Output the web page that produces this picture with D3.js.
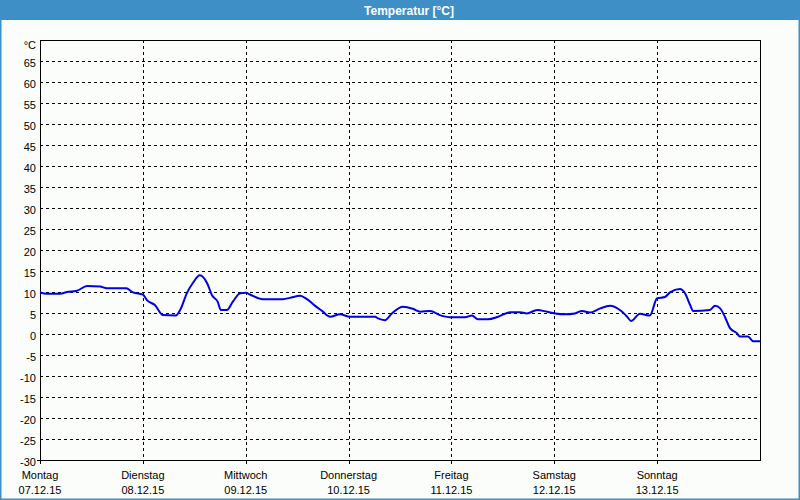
<!DOCTYPE html>
<html><head><meta charset="utf-8">
<script src="https://cdn.jsdelivr.net/npm/d3@7"></script>
<style>
html,body{margin:0;padding:0;background:#fbfdfb;}
svg{display:block;}
</style></head>
<body>
<svg id="c" width="800" height="500"></svg>
<script>
const title = "Temperatur [°C]";
const unitLabel = "°C";
const dayNames = ["Montag","Dienstag","Mittwoch","Donnerstag","Freitag","Samstag","Sonntag"];
const dayDates = ["07.12.15","08.12.15","09.12.15","10.12.15","11.12.15","12.12.15","13.12.15"];
const yTicks = [-30,-25,-20,-15,-10,-5,0,5,10,15,20,25,30,35,40,45,50,55,60,65];
// hours since Montag 07.12.15 00:00
const hours = [0,1.6,4.7,6.3,8.6,11.0,14.0,15.6,20.1,21.7,24.0,25.0,26.8,28.7,31.7,32.7,34.3,35.7,37.3,39.0,40.1,41.5,42.2,43.6,45.0,46.7,48.1,49.0,52.0,56.7,58.3,60.7,62.3,64.2,65.8,67.7,70.0,72.3,78.2,78.9,80.5,82.1,84.7,87.0,88.7,91.0,93.3,95.7,99.2,100.8,102.2,104.5,106.9,109.7,112.0,113.6,116.0,118.3,120.2,122.5,124.8,126.5,128.3,130.7,133.0,135.3,137.0,137.9,140.0,142.3,144.0,145.8,147.0,149.3,150.5,151.7,152.4,156.3,157.5,158.7,159.8,161.0,162.6,163.3,165.2,166.4,168.0];
const temps = [9.9,9.6,9.6,10.0,10.3,11.4,11.3,10.9,10.9,9.9,9.4,8.0,6.9,4.5,4.4,5.7,9.8,12.2,14.0,12.1,9.3,7.6,5.7,5.7,7.7,9.7,9.8,9.4,8.3,8.3,8.6,9.1,8.3,6.7,5.5,4.1,4.7,4.1,4.1,3.7,3.3,4.9,6.5,6.0,5.3,5.5,4.5,4.0,4.0,4.4,3.5,3.5,4.1,5.2,5.2,4.9,5.7,5.3,4.9,4.7,4.9,5.5,5.1,6.1,6.7,5.7,4.1,3.1,4.8,4.4,8.5,8.8,9.9,10.7,9.7,6.9,5.5,5.7,6.7,6.1,4.1,1.4,0.2,-0.6,-0.6,-1.7,-1.7];

const svg = d3.select("#c");
const W = 800, H = 500;
const L = 40, R = 760, T = 40, B = 460;
const font = "'Liberation Sans', Arial, sans-serif";

svg.append("rect").attr("x",0).attr("y",0).attr("width",W).attr("height",H).attr("fill","#fbfdfb");
// outer blue border
svg.append("rect").attr("x",0.75).attr("y",0).attr("width",W-1.5).attr("height",H-0.75)
  .attr("fill","none").attr("stroke","#3d8fc6").attr("stroke-width",1.5);
// title bar
svg.append("rect").attr("x",0).attr("y",0).attr("width",W).attr("height",20).attr("fill","#3d8fc6");
svg.append("text").attr("x",409).attr("y",15).attr("text-anchor","middle")
  .attr("fill","#ffffff").attr("font-family",font).attr("font-size",12).attr("font-weight","bold").text(title);

const x = d3.scaleLinear().domain([0,168]).range([L,R]);
const y = d3.scaleLinear().domain([-30,70]).range([B,T]);

// horizontal gridlines
svg.append("g").selectAll("line").data(yTicks.filter(v=>v>-30)).join("line")
  .attr("x1",L).attr("x2",R).attr("y1",d=>Math.round(y(d))+0.5).attr("y2",d=>Math.round(y(d))+0.5)
  .attr("stroke","#000").attr("stroke-width",1).attr("stroke-dasharray","3,3");
// vertical gridlines (day boundaries)
const dayIdx = d3.range(1,7);
svg.append("g").selectAll("line").data(dayIdx).join("line")
  .attr("x1",d=>Math.round(x(d*24))+0.5).attr("x2",d=>Math.round(x(d*24))+0.5)
  .attr("y1",T).attr("y2",B)
  .attr("stroke","#000").attr("stroke-width",1).attr("stroke-dasharray","3,3");
// tick marks below axis
svg.append("g").selectAll("line").data(d3.range(0,7)).join("line")
  .attr("x1",d=>Math.round(x(d*24))+0.5).attr("x2",d=>Math.round(x(d*24))+0.5)
  .attr("y1",B).attr("y2",B+4).attr("stroke","#000");
svg.append("line").attr("x1",L-3).attr("x2",L).attr("y1",B+0.5).attr("y2",B+0.5).attr("stroke","#000");

// frame
svg.append("rect").attr("x",L+0.5).attr("y",T+0.5).attr("width",R-L).attr("height",B-T)
  .attr("fill","none").attr("stroke","#000").attr("stroke-width",1);

// y labels
svg.append("g").selectAll("text").data(yTicks).join("text")
  .attr("x",36).attr("y",d=>y(d)+6).attr("text-anchor","end")
  .attr("font-family",font).attr("font-size",11).attr("fill","#000").text(d=>d);
svg.append("text").attr("x",36).attr("y",y(70)+9).attr("text-anchor","end")
  .attr("font-family",font).attr("font-size",11).attr("fill","#000").text(unitLabel);

// x labels
svg.append("g").selectAll("text").data(dayNames).join("text")
  .attr("x",(d,i)=>x(i*24)).attr("y",479).attr("text-anchor","middle")
  .attr("font-family",font).attr("font-size",11).attr("fill","#000").text(d=>d);
svg.append("g").selectAll("text").data(dayDates).join("text")
  .attr("x",(d,i)=>x(i*24)).attr("y",494).attr("text-anchor","middle")
  .attr("font-family",font).attr("font-size",11).attr("fill","#000").text(d=>d);

// line
const pts = hours.map((h,i)=>[h,temps[i]]);
svg.append("path").datum(pts)
  .attr("d", d3.line().x(d=>x(d[0])).y(d=>y(d[1])).curve(d3.curveMonotoneX))
  .attr("fill","none").attr("stroke","#0000e6").attr("stroke-width",2).attr("stroke-linejoin","round");
</script>
</body></html>
